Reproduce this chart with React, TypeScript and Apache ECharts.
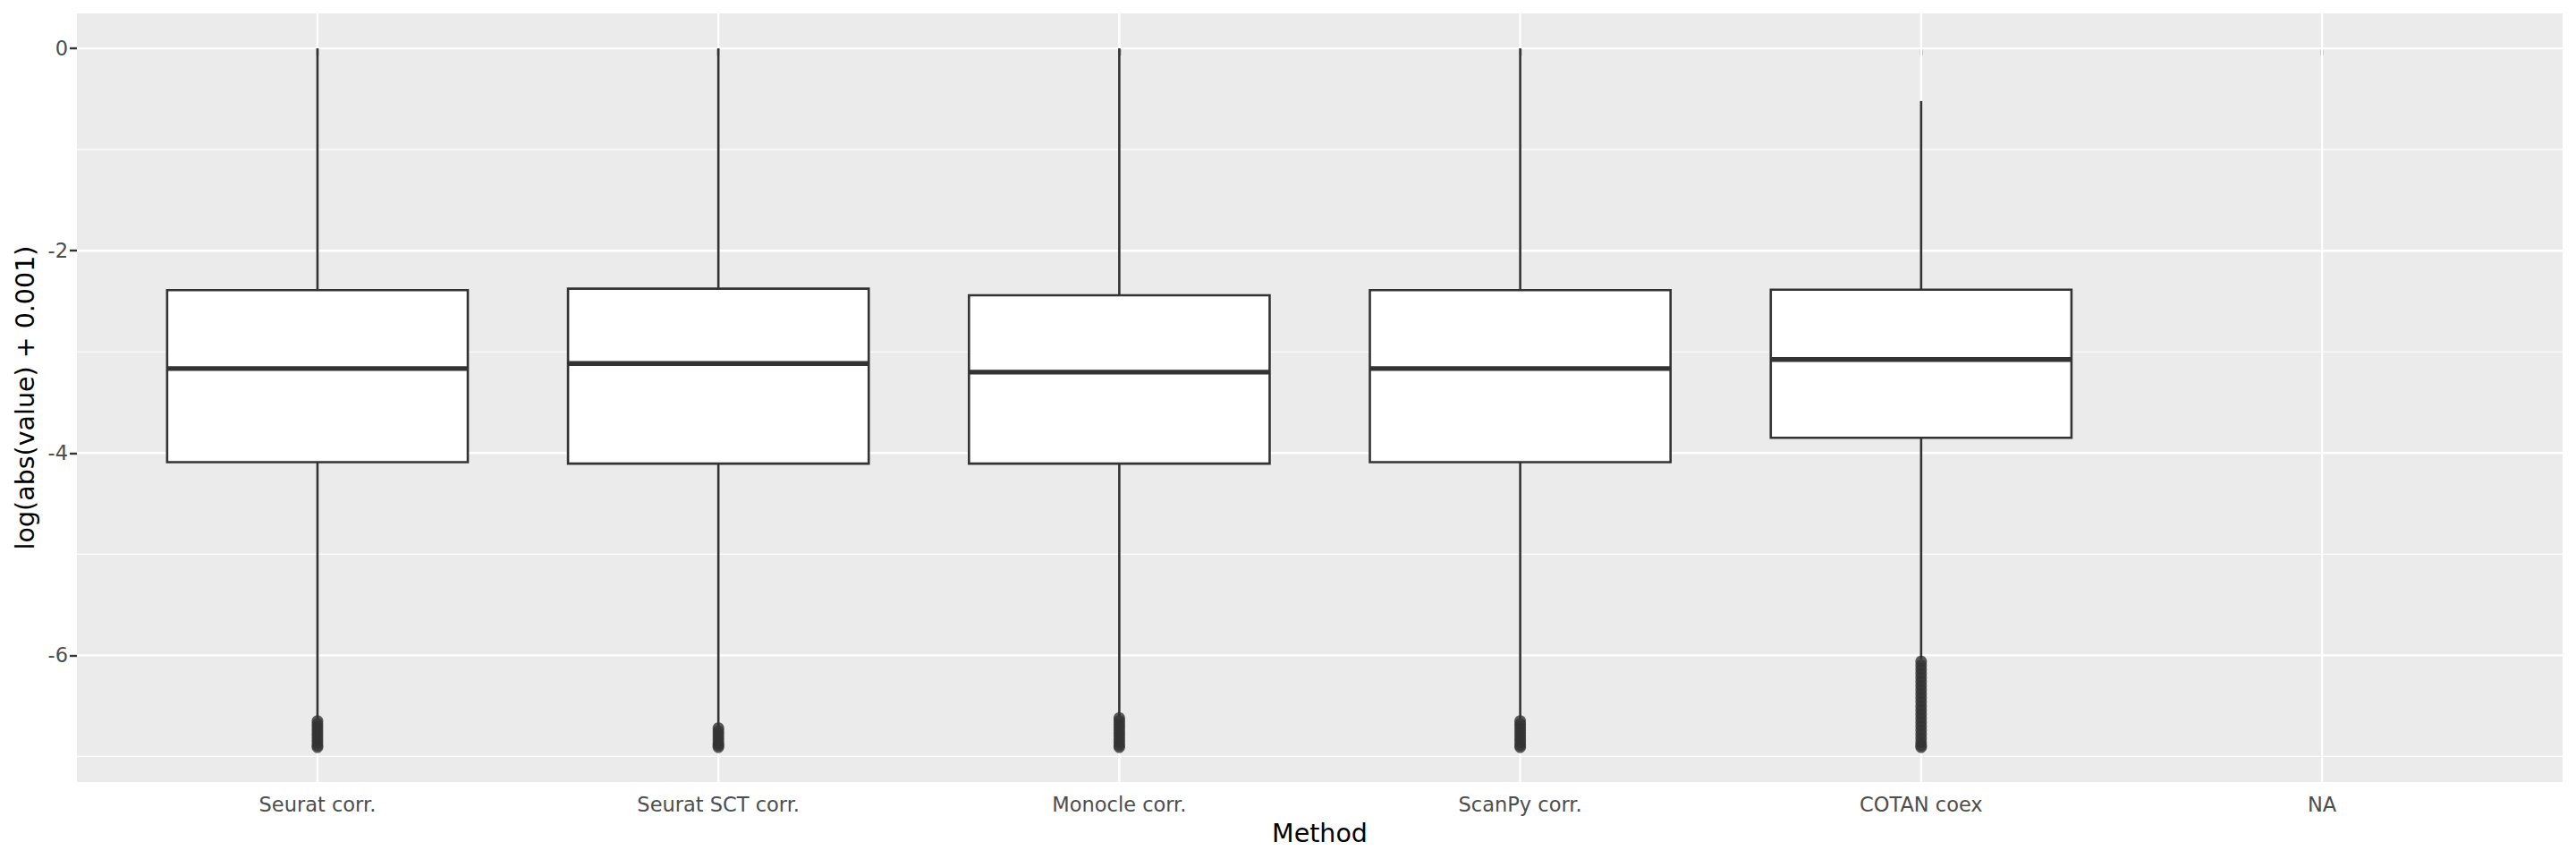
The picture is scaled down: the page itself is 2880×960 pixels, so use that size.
import React, { useEffect, useRef } from "react";
import * as echarts from "echarts";

// ---------- data ----------
const CATEGORIES = ["Seurat corr.", "Seurat SCT corr.", "Monocle corr.", "ScanPy corr.", "COTAN coex", "NA"];

// box statistics for the first five methods (NA has no data)
const WHISKER_LOW = [-6.63, -6.7, -6.6, -6.63, -6.04];
const Q1 = [-4.09, -4.105, -4.105, -4.09, -3.85];
const MEDIAN = [-3.165, -3.115, -3.2, -3.165, -3.075];
const Q3 = [-2.39, -2.375, -2.44, -2.39, -2.385];
const WHISKER_HIGH = [0.001, 0.001, 0.001, 0.001, -0.52];

// outliers (read as a dense band at the bottom of each whisker)
const OUT_SEURAT = [-6.65, -6.68, -6.71, -6.74, -6.77, -6.8, -6.83, -6.86, -6.89, -6.908];
const OUT_SCT = [-6.72, -6.75, -6.78, -6.81, -6.84, -6.87, -6.89, -6.908];
const OUT_MONOCLE = [-6.62, -6.65, -6.68, -6.71, -6.74, -6.77, -6.8, -6.83, -6.86, -6.89, -6.908];
const OUT_SCANPY = [-6.65, -6.68, -6.71, -6.74, -6.77, -6.8, -6.83, -6.86, -6.89, -6.908];
const OUT_COTAN = [
  -6.06, -6.1, -6.14, -6.18, -6.22, -6.26, -6.3, -6.34, -6.38, -6.42, -6.46, -6.5, -6.54,
  -6.58, -6.62, -6.66, -6.7, -6.74, -6.78, -6.82, -6.86, -6.89, -6.908,
];
const OUTLIERS = [OUT_SEURAT, OUT_SCT, OUT_MONOCLE, OUT_SCANPY, OUT_COTAN];

// axis ticks
const Y_MAJOR = [0, -2, -4, -6];
const Y_MINOR = [-1, -3, -5, -7];
const Y_MIN = -7.253;
const Y_MAX = 0.346;
const X_POS = CATEGORIES.map((_, i) => i + 1);

// ---------- style ----------
const FONT = "DejaVu Sans";
const DARK = "#333333";
const BOX_WIDTH = 0.75;

export default function App() {
  const ref = useRef<HTMLDivElement>(null);

  useEffect(() => {
    if (!ref.current) return;
    const chart = echarts.init(ref.current, null, { renderer: "svg" });

    const boxData = Q1.map((_, i) => [i + 1, WHISKER_LOW[i], Q1[i], MEDIAN[i], Q3[i], WHISKER_HIGH[i]]);
    const outlierData: number[][] = [];
    OUTLIERS.forEach((arr, i) => arr.forEach((v) => outlierData.push([i + 1, v])));
    const hGrid = [
      ...Y_MAJOR.map((v) => [1, v, 2.4]),
      ...Y_MINOR.map((v) => [1, v, 1.2]),
    ];
    const vGrid = X_POS.map((x) => [x, 0, 2.4]);

    const option: any = {
      animation: false,
      backgroundColor: "#ffffff",
      grid: {
        left: 86,
        right: 15,
        top: 15,
        bottom: 86,
        show: true,
        backgroundColor: "#EBEBEB",
        borderWidth: 0,
        containLabel: false,
        outerBoundsMode: "none",
      },
      xAxis: {
        type: "value",
        min: 0.4,
        max: 6.6,
        name: "Method",
        nameLocation: "middle",
        nameGap: 43,
        nameTextStyle: { fontFamily: FONT, fontSize: 28.5, color: "#000000" },
        axisLine: { show: false },
        axisTick: { show: true, length: 8, customValues: X_POS, lineStyle: { color: DARK, width: 2.4 } },
        axisLabel: {
          show: true,
          customValues: X_POS,
          margin: 13,
          fontFamily: FONT,
          fontSize: 22.5,
          color: "#4D4D4D",
          formatter: (v: number) => CATEGORIES[Math.round(v) - 1] ?? "",
        },
        splitLine: { show: false },
      },
      yAxis: {
        type: "value",
        min: Y_MIN,
        max: Y_MAX,
        name: "log(abs(value) + 0.001)",
        nameLocation: "middle",
        nameGap: 42,
        nameTextStyle: { fontFamily: FONT, fontSize: 28.5, color: "#000000" },
        axisLine: { show: false },
        axisTick: { show: true, length: 8, customValues: Y_MAJOR, lineStyle: { color: DARK, width: 2.4 } },
        axisLabel: {
          show: true,
          customValues: Y_MAJOR,
          margin: 10,
          fontFamily: FONT,
          fontSize: 22.5,
          color: "#4D4D4D",
          formatter: (v: number) => String(v),
        },
        splitLine: { show: false },
      },
      series: [
        {
          type: "custom",
          name: "hgrid",
          z: 1,
          silent: true,
          encode: { x: 0, y: 1 },
          data: hGrid,
          renderItem: (params: any, api: any) => {
            const cs = params.coordSys;
            const y = api.coord([1, api.value(1)])[1];
            return {
              type: "line",
              shape: { x1: cs.x, y1: y, x2: cs.x + cs.width, y2: y },
              style: { stroke: "#FFFFFF", lineWidth: api.value(2) },
              silent: true,
            };
          },
        },
        {
          type: "custom",
          name: "vgrid",
          z: 1,
          silent: true,
          encode: { x: 0, y: 1 },
          data: vGrid,
          renderItem: (params: any, api: any) => {
            const cs = params.coordSys;
            const x = api.coord([api.value(0), 0])[0];
            return {
              type: "line",
              shape: { x1: x, y1: cs.y, x2: x, y2: cs.y + cs.height },
              style: { stroke: "#FFFFFF", lineWidth: api.value(2) },
              silent: true,
            };
          },
        },
        {
          type: "custom",
          name: "boxes",
          z: 5,
          encode: { x: 0, y: [1, 2, 3, 4, 5] },
          data: boxData,
          renderItem: (_params: any, api: any) => {
            const x = api.value(0);
            const pLo = api.coord([x, api.value(1)]);
            const pQ1 = api.coord([x, api.value(2)]);
            const pMed = api.coord([x, api.value(3)]);
            const pQ3 = api.coord([x, api.value(4)]);
            const pHi = api.coord([x, api.value(5)]);
            const half = api.size([BOX_WIDTH, 0])[0] / 2;
            const cx = pMed[0];
            return {
              type: "group",
              children: [
                {
                  type: "line",
                  shape: { x1: cx, y1: pHi[1], x2: cx, y2: pQ3[1] },
                  style: { stroke: DARK, lineWidth: 2.6 },
                },
                {
                  type: "line",
                  shape: { x1: cx, y1: pQ1[1], x2: cx, y2: pLo[1] },
                  style: { stroke: DARK, lineWidth: 2.6 },
                },
                {
                  type: "rect",
                  shape: { x: cx - half, y: pQ3[1], width: half * 2, height: pQ1[1] - pQ3[1] },
                  style: { fill: "#FFFFFF", stroke: DARK, lineWidth: 2.6 },
                },
                {
                  type: "line",
                  shape: { x1: cx - half, y1: pMed[1], x2: cx + half, y2: pMed[1] },
                  style: { stroke: DARK, lineWidth: 5.4 },
                },
              ],
            };
          },
        },
        {
          type: "scatter",
          name: "outliers",
          z: 6,
          symbol: "circle",
          symbolSize: 13,
          itemStyle: { color: DARK },
          data: outlierData,
        },
      ],
    };

    chart.setOption(option);
    return () => chart.dispose();
  }, []);

  return (
    <div
      ref={ref}
      style={{ position: "fixed", left: 0, top: 0, width: 2880, height: 960, background: "#ffffff" }}
    />
  );
}
